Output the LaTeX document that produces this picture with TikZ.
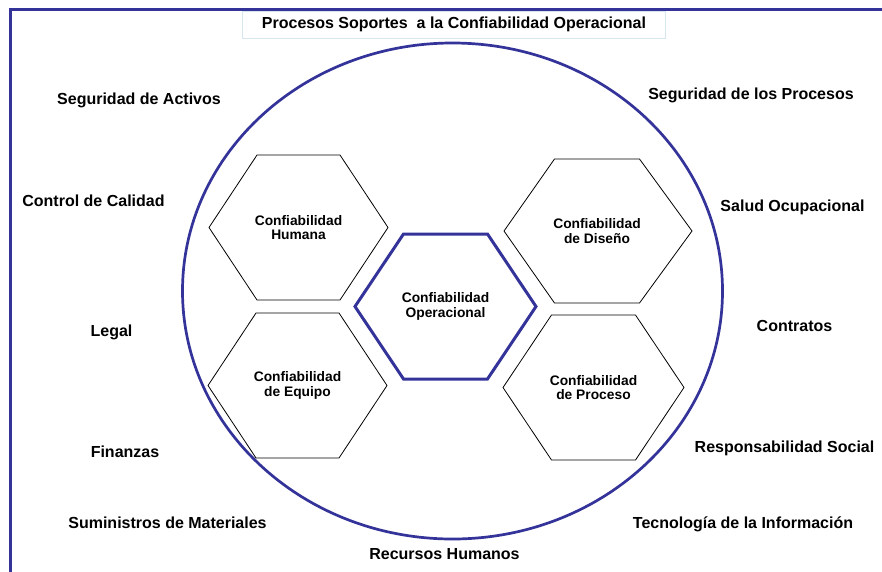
\documentclass[tikz,border=0pt]{standalone}
\usepackage{fontspec}
\setmainfont{Liberation Sans}
\definecolor{frameblue}{RGB}{51,51,153}
\definecolor{boxline}{RGB}{214,230,238}
\begin{document}
\begin{tikzpicture}[x=1pt,y=-1pt,
  lbl/.style={font=\bfseries\fontsize{16}{19}\selectfont, anchor=base, inner sep=0pt},
  hextext/.style={font=\bfseries\fontsize{13.8}{14.4}\selectfont, align=center, inner sep=0pt},
  hexthin/.style={draw=black, line width=0.8pt, line join=miter},
  hexthick/.style={draw=frameblue, line width=3pt, line join=miter},
  outline/.style={draw=frameblue, line width=3pt},
  titlebox/.style={draw=boxline, line width=1pt, fill=white, minimum width=423pt, minimum height=27.5pt, inner sep=0pt,
    font=\bfseries\fontsize{16}{19}\selectfont}
]
\useasboundingbox (0,0) rectangle (882,571);
\fill[white] (0,0) rectangle (882,571);
% frame (only top and left sides visible)
\coordinate (fbl) at (10.5,575);
\coordinate (ftl) at (10.5,9.5);
\coordinate (ftr) at (886,9.5);
\draw[outline, line cap=rect] (fbl) -- (ftl) -- (ftr);
% title
\node[titlebox] (title) at (454,24.8) {Procesos Soportes\ \ a la Confiabilidad Operacional};
% big circle
\coordinate (cc) at (452.5,291);
\draw[outline, line width=2.7pt] (cc) ellipse [x radius=270, y radius=248];
% hexagons
\node[hextext] (hum) at (298.5,227.5) {Confiabilidad\\Humana};
\draw[hexthin, shift={(hum.center)}] (-89.5,0) -- (-41.5,-72.5) -- (41.5,-72.5) -- (89.5,0) -- (41.5,72.5) -- (-41.5,72.5) -- cycle;
\node[hextext] (dis) at (597,231) {Confiabilidad\\de Diseño};
\draw[hexthin, shift={(dis.center)}] (-93,0) -- (-42.5,-72) -- (42.5,-72) -- (95,0) -- (42.5,72) -- (-42.5,72) -- cycle;
\node[hextext] (ope) at (445.5,306.5) {Confiabilidad\\Operacional};
\draw[hexthick, shift={(ope.center)}] (-90.5,0) -- (-42,-72.5) -- (42,-72.5) -- (90.5,0) -- (42,72.5) -- (-42,72.5) -- cycle;
\node[hextext] (equ) at (297.5,385.5) {Confiabilidad\\de Equipo};
\draw[hexthin, shift={(equ.center)}] (-89.5,0) -- (-41.5,-72.5) -- (41.5,-72.5) -- (89.5,0) -- (41.5,72.5) -- (-41.5,72.5) -- cycle;
\node[hextext] (pro) at (593.5,387.5) {Confiabilidad\\de Proceso};
\draw[hexthin, shift={(pro.center)}] (-90.5,0) -- (-42,-72.5) -- (42,-72.5) -- (90.5,0) -- (42,72.5) -- (-42,72.5) -- cycle;
% outer labels
\node[lbl] (l1) at (139,104) {Seguridad de Activos};
\node[lbl] (l2) at (751,99) {Seguridad de los Procesos};
\node[lbl] (l3) at (93.5,206) {Control de Calidad};
\node[lbl] (l4) at (792.5,211) {Salud Ocupacional};
\node[lbl] (l5) at (111.5,336) {Legal};
\node[lbl] (l6) at (794.5,331) {Contratos};
\node[lbl] (l7) at (125,457) {Finanzas};
\node[lbl] (l8) at (784.5,452) {Responsabilidad Social};
\node[lbl] (l9) at (167.5,528.5) {Suministros de Materiales};
\node[lbl] (l10) at (743,528.5) {Tecnología de la Información};
\node[lbl] (l11) at (444.5,559) {Recursos Humanos};
\end{tikzpicture}
\end{document}
